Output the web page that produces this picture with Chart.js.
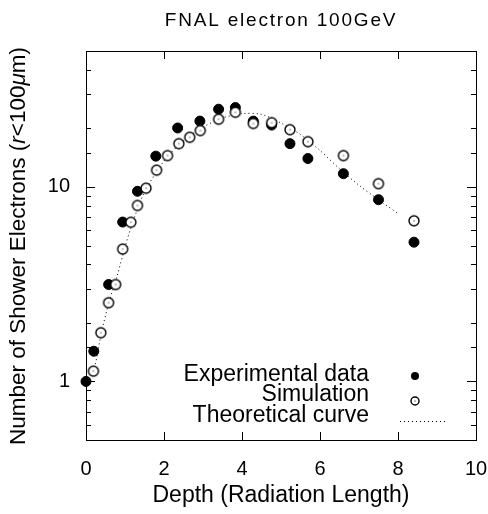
<!DOCTYPE html>
<html>
<head>
<meta charset="utf-8">
<script src="https://cdn.jsdelivr.net/npm/chart.js@4"></script>
<style>
  html, body { margin: 0; padding: 0; background: #fff; }
  #showerChart { display: block; }
</style>
</head>
<body>
<canvas id="showerChart" width="488" height="514"></canvas>
<script>
// depth in radiation lengths, counts
const expDepth = [0.0, 0.2, 0.58, 0.94, 1.32, 1.79, 2.35, 2.92, 3.40, 3.83, 4.29, 4.76, 5.23, 5.69, 6.60, 7.50, 8.41];
const expCount = [1.0, 1.43, 3.15, 6.6, 9.5, 14.4, 20.1, 21.8, 25.1, 25.6, 21.8, 20.8, 16.7, 14.0, 11.7, 8.6, 5.2];

const simDepth = [0.19, 0.38, 0.58, 0.76, 0.94, 1.15, 1.32, 1.54, 1.81, 2.09, 2.38, 2.66, 2.93, 3.40, 3.83, 4.29, 4.76, 5.23, 5.69, 6.60, 7.50, 8.41];
const simCount = [1.13, 1.78, 2.54, 3.15, 4.79, 6.58, 8.03, 9.85, 12.2, 14.5, 16.7, 18.0, 19.5, 22.3, 24.2, 21.2, 21.4, 19.7, 17.1, 14.5, 10.4, 6.7];

const curveDepth = [0, 0.2, 0.4, 0.6, 0.8, 1.0, 1.2, 1.5, 2.0, 2.5, 3.0, 3.5, 4.0, 4.5, 5.0, 5.5, 6.0, 6.5, 7.0, 7.5, 8.0];
const curveCount = [1.0, 1.15, 1.8, 2.6, 3.5, 4.9, 6.6, 9.4, 13.6, 17.3, 20.3, 22.6, 23.8, 23.6, 21.3, 18.6, 15.4, 12.4, 10.2, 8.6, 7.3];

const xTicks = [0, 2, 4, 6, 8, 10];
const yTickLabels = [1, 10];

const legendLabels = ['Experimental data', 'Simulation', 'Theoretical curve'];
const titleText = 'FNAL electron 100GeV';
const xTitle = 'Depth (Radiation Length)';

const FONT = '"Liberation Sans", Arial, sans-serif';

function toPoints(xs, ys) {
    return xs.map(function (x, i) { return { x: x, y: ys[i] }; });
}

// open circle with a small dot in the middle
function openCircle(r) {
    const c = document.createElement('canvas');
    const s = 2 * r + 4;
    c.width = s; c.height = s;
    const g = c.getContext('2d');
    g.beginPath();
    g.arc(s / 2, s / 2, r, 0, Math.PI * 2);
    g.fillStyle = '#fff';
    g.fill();
    g.lineWidth = 1.4;
    g.strokeStyle = '#000';
    g.stroke();
    g.fillStyle = '#000';
    g.fillRect(s / 2 - 0.5, s / 2 - 0.5, 1, 1);
    return c;
}

const framePlugin = {
    id: 'frame',
    afterDraw: function (chart) {
        const ctx = chart.ctx;
        const a = chart.chartArea;
        const xs = chart.scales.x, ys = chart.scales.y;
        ctx.save();
        ctx.strokeStyle = '#000';
        ctx.lineWidth = 1;
        ctx.strokeRect(Math.round(a.left) + 0.5, Math.round(a.top) + 0.5,
            Math.round(a.right - a.left), Math.round(a.bottom - a.top));

        ctx.beginPath();
        xs.ticks.forEach(function (t) {
            const px = Math.round(xs.getPixelForValue(t.value)) + 0.5;
            ctx.moveTo(px, a.bottom); ctx.lineTo(px, a.bottom - 8);
            ctx.moveTo(px, a.top); ctx.lineTo(px, a.top + 8);
        });
        ys.ticks.forEach(function (t) {
            const py = Math.round(ys.getPixelForValue(t.value)) + 0.5;
            const lg = Math.log10(t.value);
            const len = Math.abs(lg - Math.round(lg)) < 1e-6 ? 9 : 5;
            ctx.moveTo(a.left, py); ctx.lineTo(a.left + len, py);
            ctx.moveTo(a.right, py); ctx.lineTo(a.right - len, py);
        });
        ctx.stroke();

        // title
        ctx.fillStyle = '#000';
        ctx.font = '19px ' + FONT;
        ctx.textAlign = 'center';
        ctx.textBaseline = 'alphabetic';
        if ('letterSpacing' in ctx) ctx.letterSpacing = '1.8px';
        ctx.fillText(titleText, (a.left + a.right) / 2, 26);
        if ('letterSpacing' in ctx) ctx.letterSpacing = '0px';

        // y axis title with italic r and mu
        const parts = [
            ['Number of Shower Electrons (', 'normal'],
            ['r', 'italic'],
            ['<100', 'normal'],
            ['\u03bc', 'italic'],
            ['m)', 'normal']
        ];
        let total = 0;
        parts.forEach(function (p) {
            ctx.font = p[1] + ' 22.5px ' + FONT;
            p.push(ctx.measureText(p[0]).width);
            total += p[2];
        });
        ctx.translate(25, 246);
        ctx.rotate(-Math.PI / 2);
        ctx.textAlign = 'left';
        let cx = -total / 2;
        parts.forEach(function (p) {
            ctx.font = p[1] + ' 22.5px ' + FONT;
            ctx.fillText(p[0], cx, 0);
            cx += p[2];
        });
        ctx.restore();

        // legend
        ctx.save();
        ctx.fillStyle = '#000';
        ctx.strokeStyle = '#000';
        ctx.font = '23px ' + FONT;
        ctx.textAlign = 'right';
        ctx.textBaseline = 'alphabetic';
        const rows = [381, 401, 422];
        legendLabels.forEach(function (lab, i) {
            ctx.fillText(lab, 369, rows[i]);
        });
        ctx.beginPath();
        ctx.arc(415, 376, 4, 0, Math.PI * 2);
        ctx.fill();
        ctx.drawImage(openCircle(4), 415 - 6, 401 - 6);
        ctx.beginPath();
        ctx.setLineDash([1, 3]);
        ctx.moveTo(400, 421.5); ctx.lineTo(448, 421.5);
        ctx.stroke();
        ctx.restore();
    }
};

const config = {
    type: 'scatter',
    data: {
        datasets: [
            {
                label: legendLabels[1],
                data: toPoints(simDepth, simCount),
                pointStyle: openCircle(5),
                pointRadius: 5,
                clip: false,
                order: 1
            },
            {
                label: legendLabels[0],
                data: toPoints(expDepth, expCount),
                pointStyle: 'circle',
                pointRadius: 5,
                backgroundColor: '#000',
                borderColor: '#000',
                clip: false,
                order: 2
            },
            {
                label: legendLabels[2],
                type: 'line',
                data: toPoints(curveDepth, curveCount),
                borderColor: '#000',
                borderWidth: 1,
                borderDash: [1, 3],
                pointRadius: 0,
                fill: false,
                tension: 0.3,
                order: 3
            }
        ]
    },
    options: {
        responsive: false,
        animation: false,
        events: [],
        layout: { padding: { top: 51, right: 12, left: 0, bottom: 0 } },
        plugins: {
            legend: { display: false },
            title: { display: false },
            tooltip: { enabled: false }
        },
        scales: {
            x: {
                type: 'linear',
                min: 0,
                max: 10,
                afterBuildTicks: function (s) { s.ticks = xTicks.map(function (v) { return { value: v }; }); },
                afterFit: function (s) { s.height = 74; s.paddingLeft = 0; s.paddingRight = 0; },
                grid: { display: false, drawTicks: false },
                border: { display: false },
                ticks: { color: '#000', padding: 17, maxRotation: 0, font: { family: FONT, size: 20 } },
                title: {
                    display: true,
                    text: xTitle,
                    color: '#000',
                    font: { family: FONT, size: 23 },
                    padding: { top: 0, bottom: 5 }
                }
            },
            y: {
                type: 'logarithmic',
                min: 0.5,
                max: 50,
                afterFit: function (s) { s.width = 86; s.paddingTop = 0; s.paddingBottom = 0; },
                grid: { display: false, drawTicks: false },
                border: { display: false },
                ticks: {
                    color: '#000',
                    padding: 16,
                    autoSkip: false,
                    font: { family: FONT, size: 20 },
                    callback: function (v) { return yTickLabels.indexOf(v) >= 0 ? String(v) : ''; }
                }
            }
        }
    },
    plugins: [framePlugin]
};

const showerChart = new Chart(document.getElementById('showerChart'), config);
</script>
</body>
</html>
